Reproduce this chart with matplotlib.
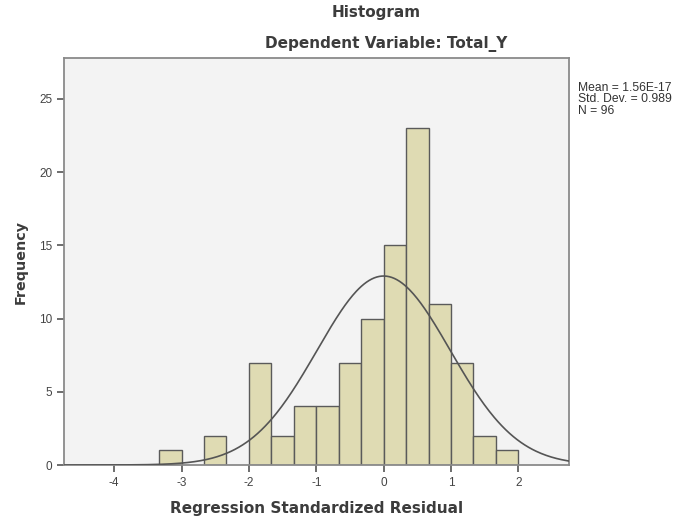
import numpy as np
import matplotlib
matplotlib.use("Agg")
import matplotlib.pyplot as plt

# Data
bin_left = [-10/3, -3.0, -8/3, -7/3, -2.0, -5/3, -4/3, -1.0, -2/3, -1/3, 0.0, 1/3, 2/3, 1.0, 4/3, 5/3]
counts   = [1, 0, 2, 0, 7, 2, 4, 4, 7, 10, 15, 23, 11, 7, 2, 1]
bin_width = 1/3
mean = 1.56e-17
std = 0.989
n = 96
x_ticks = [-4, -3, -2, -1, 0, 1, 2]
y_ticks = [0, 5, 10, 15, 20, 25]

plt.rcParams['font.family'] = ['Liberation Sans', 'DejaVu Sans']
plt.rcParams['axes.unicode_minus'] = False

fig = plt.figure(figsize=(6.81, 5.23), dpi=100)
fig.patch.set_facecolor('white')
ax = fig.add_axes([64/681, 1-465/523, (569-64)/681, (465-58)/523])
ax.set_facecolor('#f3f3f3')

bars_x = [b for b, c in zip(bin_left, counts) if c > 0]
bars_h = [c for c in counts if c > 0]
ax.bar(bars_x, bars_h, width=bin_width, align='edge', color='#dfdbb3',
       edgecolor='#5a5a5a', linewidth=1.0, zorder=2)

xmin, xmax = -4.746, 2.752
xs = np.linspace(xmin, xmax, 400)
ys = n * bin_width * np.exp(-0.5 * ((xs - mean) / std) ** 2) / (std * np.sqrt(2 * np.pi))
ax.plot(xs, ys, color='#555555', linewidth=1.2, zorder=3)

ax.set_xlim(xmin, xmax)
ax.set_ylim(0, 27.8)
ax.set_xticks(x_ticks)
ax.set_yticks(y_ticks)
ax.tick_params(axis='both', colors='#555555', labelcolor='#444444', labelsize=8.5,
               length=5, width=1.2, direction='out')
for s in ax.spines.values():
    s.set_color('#8a8a8a')
    s.set_linewidth(1.3)

bold_font = dict(family='DejaVu Sans', fontweight='bold', fontsize=11, color='#3c3c3c')
ax.set_xlabel('Regression Standardized Residual', labelpad=9, **bold_font)
ax.set_ylabel('Frequency', labelpad=8, family='DejaVu Sans', fontweight='bold',
              fontsize=10.3, color='#3c3c3c')

fig.text(376/681, 1-13/523, 'Histogram', ha='center', va='center', **bold_font)
fig.text(386/681, 1-44/523, 'Dependent Variable: Total_Y', ha='center', va='center',
         **bold_font)

fig.text(578/681, 1-82/523, 'Mean = 1.56E-17\nStd. Dev. = 0.989\nN = 96', ha='left',
         va='top', fontsize=8.7, color='#333333', linespacing=0.92)

fig.savefig('out.png', dpi=100)
